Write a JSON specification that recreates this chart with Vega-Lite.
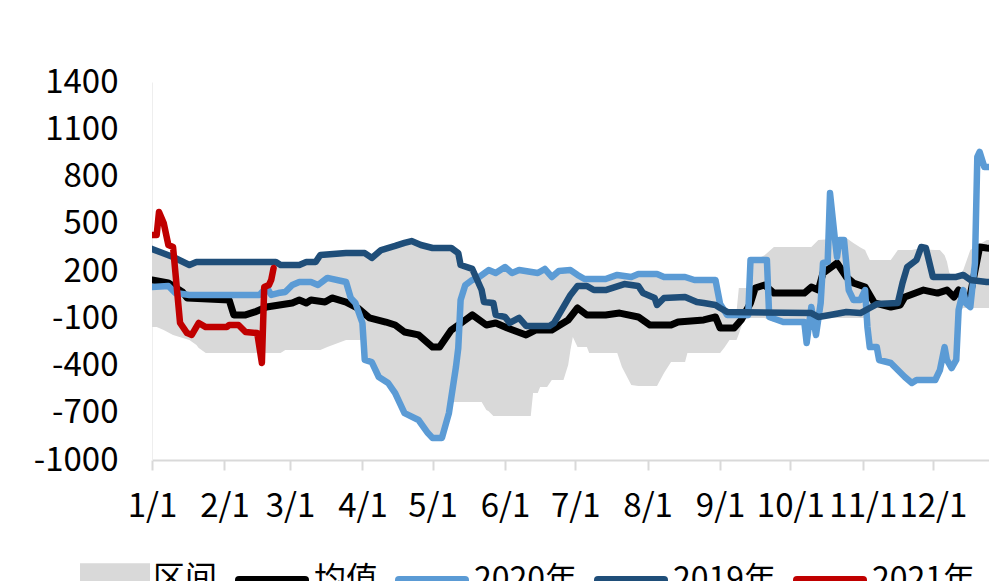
{
"$schema": "https://vega.github.io/schema/vega-lite/v6.json",
"width": 837, "height": 378,
"autosize": {"type": "none"},
"padding": {"left": 152, "top": 82, "right": 0, "bottom": 121},
"config": {"view": {"stroke": null}, "font": "Noto Sans CJK SC"},
"datasets": {
"band": [
{"d":"2021/01/01","lo":-156,"hi":340},{"d":"2021/01/03","lo":-156,"hi":320},{"d":"2021/01/06","lo":-175,"hi":300},{"d":"2021/01/10","lo":-206,"hi":289},{"d":"2021/01/17","lo":-238,"hi":238},{"d":"2021/01/20","lo":-270,"hi":257},{"d":"2021/01/21","lo":-289,"hi":257},{"d":"2021/01/24","lo":-321,"hi":257},{"d":"2021/02/23","lo":-321,"hi":257},{"d":"2021/02/25","lo":-321,"hi":238},{"d":"2021/02/27","lo":-302,"hi":238},{"d":"2021/03/05","lo":-302,"hi":238},{"d":"2021/03/08","lo":-302,"hi":257},{"d":"2021/03/12","lo":-302,"hi":257},{"d":"2021/03/14","lo":-302,"hi":302},{"d":"2021/03/17","lo":-283,"hi":310},{"d":"2021/03/25","lo":-238,"hi":314},{"d":"2021/04/01","lo":-238,"hi":314},{"d":"2021/04/02","lo":-365,"hi":314},{"d":"2021/04/05","lo":-378,"hi":283},{"d":"2021/04/08","lo":-473,"hi":310},{"d":"2021/04/09","lo":-500,"hi":333},{"d":"2021/04/12","lo":-511,"hi":350},{"d":"2021/04/15","lo":-575,"hi":359},{"d":"2021/04/19","lo":-702,"hi":378},{"d":"2021/04/22","lo":-725,"hi":390},{"d":"2021/04/25","lo":-746,"hi":370},{"d":"2021/04/26","lo":-780,"hi":365},{"d":"2021/04/29","lo":-829,"hi":346},{"d":"2021/05/01","lo":-860,"hi":346},{"d":"2021/05/05","lo":-860,"hi":346},{"d":"2021/05/08","lo":-702,"hi":346},{"d":"2021/05/09","lo":-660,"hi":346},{"d":"2021/05/10","lo":-632,"hi":330},{"d":"2021/05/12","lo":-632,"hi":314},{"d":"2021/05/13","lo":-632,"hi":238},{"d":"2021/05/18","lo":-632,"hi":213},{"d":"2021/05/21","lo":-632,"hi":162},{"d":"2021/05/22","lo":-632,"hi":162},{"d":"2021/05/24","lo":-683,"hi":180},{"d":"2021/05/25","lo":-690,"hi":206},{"d":"2021/05/27","lo":-721,"hi":195},{"d":"2021/05/28","lo":-721,"hi":187},{"d":"2021/06/01","lo":-721,"hi":225},{"d":"2021/06/04","lo":-721,"hi":187},{"d":"2021/06/07","lo":-721,"hi":206},{"d":"2021/06/12","lo":-721,"hi":195},{"d":"2021/06/13","lo":-575,"hi":190},{"d":"2021/06/15","lo":-575,"hi":187},{"d":"2021/06/16","lo":-537,"hi":200},{"d":"2021/06/18","lo":-537,"hi":213},{"d":"2021/06/19","lo":-537,"hi":190},{"d":"2021/06/21","lo":-492,"hi":162},{"d":"2021/06/24","lo":-492,"hi":200},{"d":"2021/06/26","lo":-492,"hi":203},{"d":"2021/06/28","lo":-397,"hi":206},{"d":"2021/06/29","lo":-300,"hi":206},{"d":"2021/06/30","lo":-219,"hi":190},{"d":"2021/07/02","lo":-283,"hi":175},{"d":"2021/07/06","lo":-283,"hi":149},{"d":"2021/07/07","lo":-321,"hi":149},{"d":"2021/07/14","lo":-321,"hi":149},{"d":"2021/07/19","lo":-321,"hi":175},{"d":"2021/07/21","lo":-410,"hi":170},{"d":"2021/07/25","lo":-524,"hi":162},{"d":"2021/07/28","lo":-530,"hi":181},{"d":"2021/08/05","lo":-530,"hi":181},{"d":"2021/08/08","lo":-448,"hi":162},{"d":"2021/08/11","lo":-378,"hi":162},{"d":"2021/08/17","lo":-378,"hi":162},{"d":"2021/08/18","lo":-321,"hi":155},{"d":"2021/08/21","lo":-321,"hi":143},{"d":"2021/08/30","lo":-321,"hi":143},{"d":"2021/09/01","lo":-321,"hi":-10},{"d":"2021/09/03","lo":-283,"hi":-40},{"d":"2021/09/05","lo":-238,"hi":-60},{"d":"2021/09/08","lo":-238,"hi":-60},{"d":"2021/09/09","lo":-200,"hi":92},{"d":"2021/09/11","lo":-111,"hi":92},{"d":"2021/09/13","lo":-100,"hi":92},{"d":"2021/09/14","lo":-98,"hi":270},{"d":"2021/09/16","lo":-98,"hi":270},{"d":"2021/09/20","lo":-98,"hi":300},{"d":"2021/09/24","lo":-124,"hi":352},{"d":"2021/10/07","lo":-124,"hi":352},{"d":"2021/10/10","lo":-98,"hi":352},{"d":"2021/10/13","lo":-98,"hi":397},{"d":"2021/10/25","lo":-98,"hi":410},{"d":"2021/10/28","lo":-98,"hi":378},{"d":"2021/10/31","lo":-98,"hi":350},{"d":"2021/11/02","lo":-98,"hi":333},{"d":"2021/11/03","lo":-156,"hi":300},{"d":"2021/11/04","lo":-283,"hi":270},{"d":"2021/11/07","lo":-283,"hi":270},{"d":"2021/11/08","lo":-365,"hi":270},{"d":"2021/11/13","lo":-384,"hi":270},{"d":"2021/11/16","lo":-429,"hi":333},{"d":"2021/11/19","lo":-473,"hi":333},{"d":"2021/11/22","lo":-511,"hi":333},{"d":"2021/11/24","lo":-492,"hi":340},{"d":"2021/12/02","lo":-492,"hi":333},{"d":"2021/12/04","lo":-429,"hi":333},{"d":"2021/12/06","lo":-283,"hi":300},{"d":"2021/12/07","lo":-365,"hi":260},{"d":"2021/12/08","lo":-390,"hi":190},{"d":"2021/12/09","lo":-416,"hi":170},{"d":"2021/12/11","lo":-365,"hi":143},{"d":"2021/12/12","lo":-48,"hi":160},{"d":"2021/12/14","lo":-35,"hi":206},{"d":"2021/12/17","lo":-35,"hi":333},{"d":"2021/12/24","lo":-35,"hi":397},{"d":"2021/12/31","lo":-35,"hi":397}
],
"lines": [
{"d":"2021/01/01","s":"均值","v":143},{"d":"2021/01/08","s":"均值","v":124},{"d":"2021/01/14","s":"均值","v":67},{"d":"2021/01/16","s":"均值","v":29},{"d":"2021/02/03","s":"均值","v":16},{"d":"2021/02/05","s":"均值","v":-79},{"d":"2021/02/10","s":"均值","v":-79},{"d":"2021/02/14","s":"均值","v":-60},{"d":"2021/02/19","s":"均值","v":-29},{"d":"2021/03/02","s":"均值","v":-3},{"d":"2021/03/05","s":"均值","v":16},{"d":"2021/03/08","s":"均值","v":-3},{"d":"2021/03/10","s":"均值","v":16},{"d":"2021/03/16","s":"均值","v":3},{"d":"2021/03/19","s":"均值","v":29},{"d":"2021/03/25","s":"均值","v":3},{"d":"2021/03/30","s":"均值","v":-35},{"d":"2021/04/04","s":"均值","v":-98},{"d":"2021/04/11","s":"均值","v":-124},{"d":"2021/04/15","s":"均值","v":-143},{"d":"2021/04/19","s":"均值","v":-187},{"d":"2021/04/25","s":"均值","v":-206},{"d":"2021/05/01","s":"均值","v":-283},{"d":"2021/05/04","s":"均值","v":-283},{"d":"2021/05/09","s":"均值","v":-175},{"d":"2021/05/15","s":"均值","v":-111},{"d":"2021/05/18","s":"均值","v":-79},{"d":"2021/05/24","s":"均值","v":-143},{"d":"2021/05/28","s":"均值","v":-130},{"d":"2021/06/02","s":"均值","v":-162},{"d":"2021/06/10","s":"均值","v":-206},{"d":"2021/06/14","s":"均值","v":-175},{"d":"2021/06/21","s":"均值","v":-175},{"d":"2021/06/28","s":"均值","v":-111},{"d":"2021/07/02","s":"均值","v":-35},{"d":"2021/07/06","s":"均值","v":-79},{"d":"2021/07/14","s":"均值","v":-79},{"d":"2021/07/20","s":"均值","v":-67},{"d":"2021/07/28","s":"均值","v":-92},{"d":"2021/08/02","s":"均值","v":-143},{"d":"2021/08/11","s":"均值","v":-143},{"d":"2021/08/14","s":"均值","v":-124},{"d":"2021/08/25","s":"均值","v":-111},{"d":"2021/08/30","s":"均值","v":-92},{"d":"2021/09/01","s":"均值","v":-162},{"d":"2021/09/07","s":"均值","v":-162},{"d":"2021/09/10","s":"均值","v":-111},{"d":"2021/09/14","s":"均值","v":-3},{"d":"2021/09/16","s":"均值","v":92},{"d":"2021/09/20","s":"均值","v":111},{"d":"2021/09/24","s":"均值","v":60},{"d":"2021/10/07","s":"均值","v":60},{"d":"2021/10/10","s":"均值","v":98},{"d":"2021/10/13","s":"均值","v":79},{"d":"2021/10/15","s":"均值","v":187},{"d":"2021/10/21","s":"均值","v":251},{"d":"2021/10/25","s":"均值","v":162},{"d":"2021/10/28","s":"均值","v":124},{"d":"2021/11/02","s":"均值","v":98},{"d":"2021/11/06","s":"均值","v":-3},{"d":"2021/11/13","s":"均值","v":-29},{"d":"2021/11/17","s":"均值","v":-16},{"d":"2021/11/19","s":"均值","v":35},{"d":"2021/11/27","s":"均值","v":79},{"d":"2021/12/03","s":"均值","v":60},{"d":"2021/12/07","s":"均值","v":79},{"d":"2021/12/10","s":"均值","v":35},{"d":"2021/12/12","s":"均值","v":79},{"d":"2021/12/14","s":"均值","v":16},{"d":"2021/12/17","s":"均值","v":48},{"d":"2021/12/21","s":"均值","v":352},{"d":"2021/12/24","s":"均值","v":346},{"d":"2021/12/31","s":"均值","v":340},
{"d":"2021/01/01","s":"2020年","v":98},{"d":"2021/01/08","s":"2020年","v":105},{"d":"2021/01/11","s":"2020年","v":60},{"d":"2021/01/17","s":"2020年","v":48},{"d":"2021/02/16","s":"2020年","v":48},{"d":"2021/02/19","s":"2020年","v":98},{"d":"2021/02/21","s":"2020年","v":48},{"d":"2021/02/24","s":"2020年","v":60},{"d":"2021/02/27","s":"2020年","v":67},{"d":"2021/03/02","s":"2020年","v":111},{"d":"2021/03/05","s":"2020年","v":130},{"d":"2021/03/10","s":"2020年","v":130},{"d":"2021/03/13","s":"2020年","v":111},{"d":"2021/03/17","s":"2020年","v":156},{"d":"2021/03/25","s":"2020年","v":130},{"d":"2021/03/27","s":"2020年","v":29},{"d":"2021/03/29","s":"2020年","v":-3},{"d":"2021/04/01","s":"2020年","v":-130},{"d":"2021/04/02","s":"2020年","v":-365},{"d":"2021/04/05","s":"2020年","v":-378},{"d":"2021/04/08","s":"2020年","v":-473},{"d":"2021/04/12","s":"2020年","v":-511},{"d":"2021/04/15","s":"2020年","v":-575},{"d":"2021/04/19","s":"2020年","v":-702},{"d":"2021/04/25","s":"2020年","v":-746},{"d":"2021/04/29","s":"2020年","v":-829},{"d":"2021/05/01","s":"2020年","v":-860},{"d":"2021/05/05","s":"2020年","v":-860},{"d":"2021/05/08","s":"2020年","v":-702},{"d":"2021/05/11","s":"2020年","v":-410},{"d":"2021/05/12","s":"2020年","v":-289},{"d":"2021/05/13","s":"2020年","v":16},{"d":"2021/05/15","s":"2020年","v":111},{"d":"2021/05/18","s":"2020年","v":143},{"d":"2021/05/21","s":"2020年","v":162},{"d":"2021/05/25","s":"2020年","v":206},{"d":"2021/05/28","s":"2020年","v":187},{"d":"2021/06/01","s":"2020年","v":225},{"d":"2021/06/04","s":"2020年","v":187},{"d":"2021/06/07","s":"2020年","v":206},{"d":"2021/06/15","s":"2020年","v":187},{"d":"2021/06/18","s":"2020年","v":213},{"d":"2021/06/21","s":"2020年","v":162},{"d":"2021/06/24","s":"2020年","v":200},{"d":"2021/06/29","s":"2020年","v":206},{"d":"2021/07/02","s":"2020年","v":175},{"d":"2021/07/05","s":"2020年","v":149},{"d":"2021/07/14","s":"2020年","v":149},{"d":"2021/07/19","s":"2020年","v":175},{"d":"2021/07/25","s":"2020年","v":162},{"d":"2021/07/28","s":"2020年","v":181},{"d":"2021/08/05","s":"2020年","v":181},{"d":"2021/08/08","s":"2020年","v":162},{"d":"2021/08/17","s":"2020年","v":162},{"d":"2021/08/21","s":"2020年","v":143},{"d":"2021/08/30","s":"2020年","v":143},{"d":"2021/09/01","s":"2020年","v":-10},{"d":"2021/09/04","s":"2020年","v":-79},{"d":"2021/09/13","s":"2020年","v":-79},{"d":"2021/09/14","s":"2020年","v":270},{"d":"2021/09/21","s":"2020年","v":270},{"d":"2021/09/22","s":"2020年","v":-92},{"d":"2021/09/28","s":"2020年","v":-124},{"d":"2021/10/07","s":"2020年","v":-124},{"d":"2021/10/08","s":"2020年","v":-257},{"d":"2021/10/10","s":"2020年","v":-29},{"d":"2021/10/12","s":"2020年","v":-206},{"d":"2021/10/14","s":"2020年","v":-3},{"d":"2021/10/15","s":"2020年","v":251},{"d":"2021/10/17","s":"2020年","v":257},{"d":"2021/10/18","s":"2020年","v":695},{"d":"2021/10/20","s":"2020年","v":416},{"d":"2021/10/21","s":"2020年","v":289},{"d":"2021/10/22","s":"2020年","v":397},{"d":"2021/10/24","s":"2020年","v":397},{"d":"2021/10/26","s":"2020年","v":79},{"d":"2021/10/28","s":"2020年","v":16},{"d":"2021/10/31","s":"2020年","v":16},{"d":"2021/11/02","s":"2020年","v":79},{"d":"2021/11/03","s":"2020年","v":-156},{"d":"2021/11/04","s":"2020年","v":-283},{"d":"2021/11/07","s":"2020年","v":-283},{"d":"2021/11/08","s":"2020年","v":-365},{"d":"2021/11/13","s":"2020年","v":-384},{"d":"2021/11/16","s":"2020年","v":-429},{"d":"2021/11/19","s":"2020年","v":-473},{"d":"2021/11/22","s":"2020年","v":-511},{"d":"2021/11/24","s":"2020年","v":-492},{"d":"2021/12/02","s":"2020年","v":-492},{"d":"2021/12/04","s":"2020年","v":-429},{"d":"2021/12/06","s":"2020年","v":-283},{"d":"2021/12/07","s":"2020年","v":-365},{"d":"2021/12/09","s":"2020年","v":-416},{"d":"2021/12/11","s":"2020年","v":-365},{"d":"2021/12/12","s":"2020年","v":-48},{"d":"2021/12/14","s":"2020年","v":79},{"d":"2021/12/15","s":"2020年","v":-3},{"d":"2021/12/17","s":"2020年","v":-29},{"d":"2021/12/19","s":"2020年","v":251},{"d":"2021/12/20","s":"2020年","v":924},{"d":"2021/12/21","s":"2020年","v":956},{"d":"2021/12/23","s":"2020年","v":860},{"d":"2021/12/31","s":"2020年","v":860},
{"d":"2021/01/01","s":"2019年","v":340},{"d":"2021/01/10","s":"2019年","v":289},{"d":"2021/01/17","s":"2019年","v":238},{"d":"2021/01/20","s":"2019年","v":257},{"d":"2021/02/23","s":"2019年","v":257},{"d":"2021/02/25","s":"2019年","v":238},{"d":"2021/03/05","s":"2019年","v":238},{"d":"2021/03/08","s":"2019年","v":257},{"d":"2021/03/12","s":"2019年","v":257},{"d":"2021/03/14","s":"2019年","v":302},{"d":"2021/03/25","s":"2019年","v":314},{"d":"2021/04/02","s":"2019年","v":314},{"d":"2021/04/05","s":"2019年","v":283},{"d":"2021/04/09","s":"2019年","v":333},{"d":"2021/04/15","s":"2019年","v":359},{"d":"2021/04/19","s":"2019年","v":378},{"d":"2021/04/22","s":"2019年","v":390},{"d":"2021/04/26","s":"2019年","v":365},{"d":"2021/05/01","s":"2019年","v":346},{"d":"2021/05/09","s":"2019年","v":346},{"d":"2021/05/12","s":"2019年","v":314},{"d":"2021/05/13","s":"2019年","v":238},{"d":"2021/05/18","s":"2019年","v":213},{"d":"2021/05/22","s":"2019年","v":79},{"d":"2021/05/23","s":"2019年","v":3},{"d":"2021/05/27","s":"2019年","v":-3},{"d":"2021/05/28","s":"2019年","v":-79},{"d":"2021/06/01","s":"2019年","v":-92},{"d":"2021/06/03","s":"2019年","v":-130},{"d":"2021/06/07","s":"2019年","v":-98},{"d":"2021/06/10","s":"2019年","v":-149},{"d":"2021/06/20","s":"2019年","v":-149},{"d":"2021/06/22","s":"2019年","v":-130},{"d":"2021/06/27","s":"2019年","v":-3},{"d":"2021/06/29","s":"2019年","v":48},{"d":"2021/07/02","s":"2019年","v":105},{"d":"2021/07/06","s":"2019年","v":105},{"d":"2021/07/09","s":"2019年","v":79},{"d":"2021/07/14","s":"2019年","v":79},{"d":"2021/07/22","s":"2019年","v":117},{"d":"2021/07/28","s":"2019年","v":105},{"d":"2021/07/30","s":"2019年","v":60},{"d":"2021/08/04","s":"2019年","v":29},{"d":"2021/08/05","s":"2019年","v":-16},{"d":"2021/08/08","s":"2019年","v":29},{"d":"2021/08/17","s":"2019年","v":35},{"d":"2021/08/22","s":"2019年","v":3},{"d":"2021/08/25","s":"2019年","v":-3},{"d":"2021/08/30","s":"2019年","v":-16},{"d":"2021/09/01","s":"2019年","v":-35},{"d":"2021/09/04","s":"2019年","v":-60},{"d":"2021/10/10","s":"2019年","v":-67},{"d":"2021/10/13","s":"2019年","v":-92},{"d":"2021/10/18","s":"2019年","v":-79},{"d":"2021/10/25","s":"2019年","v":-60},{"d":"2021/10/31","s":"2019年","v":-67},{"d":"2021/11/04","s":"2019年","v":-35},{"d":"2021/11/07","s":"2019年","v":-10},{"d":"2021/11/16","s":"2019年","v":-3},{"d":"2021/11/18","s":"2019年","v":124},{"d":"2021/11/20","s":"2019年","v":225},{"d":"2021/11/24","s":"2019年","v":270},{"d":"2021/11/26","s":"2019年","v":352},{"d":"2021/11/28","s":"2019年","v":346},{"d":"2021/12/01","s":"2019年","v":162},{"d":"2021/12/11","s":"2019年","v":162},{"d":"2021/12/14","s":"2019年","v":175},{"d":"2021/12/17","s":"2019年","v":143},{"d":"2021/12/24","s":"2019年","v":130},{"d":"2021/12/31","s":"2019年","v":130},
{"d":"2021/01/01","s":"2021年","v":429},{"d":"2021/01/03","s":"2021年","v":429},{"d":"2021/01/04","s":"2021年","v":575},{"d":"2021/01/06","s":"2021年","v":505},{"d":"2021/01/08","s":"2021年","v":365},{"d":"2021/01/10","s":"2021年","v":352},{"d":"2021/01/13","s":"2021年","v":-130},{"d":"2021/01/16","s":"2021年","v":-194},{"d":"2021/01/18","s":"2021年","v":-206},{"d":"2021/01/21","s":"2021年","v":-130},{"d":"2021/01/24","s":"2021年","v":-156},{"d":"2021/02/02","s":"2021年","v":-156},{"d":"2021/02/03","s":"2021年","v":-143},{"d":"2021/02/07","s":"2021年","v":-143},{"d":"2021/02/10","s":"2021年","v":-187},{"d":"2021/02/15","s":"2021年","v":-194},{"d":"2021/02/17","s":"2021年","v":-384},{"d":"2021/02/18","s":"2021年","v":98},{"d":"2021/02/20","s":"2021年","v":111},{"d":"2021/02/21","s":"2021年","v":143},{"d":"2021/02/22","s":"2021年","v":219}
]
},
"layer": [
{"data": {"name": "band"},
 "mark": {"type": "area", "clip": true},
 "encoding": {
  "x": {"field": "d", "type": "temporal", "scale": {"domain": [{"year": 2021, "month": 1, "date": 1}, {"year": 2021, "month": 12, "date": 25}]}, "axis": {"format": "%-m/%-d", "tickCount": {"interval": "month", "step": 1}, "title": null, "grid": false, "labelFontSize": 33, "labelColor": "#000000", "labelPadding": 20, "tickSize": 10, "tickColor": "#D9D9D9", "tickWidth": 2, "domainColor": "#D9D9D9", "domainWidth": 2, "labelOverlap": false, "labelFlush": false}},
  "y": {"field": "lo", "type": "quantitative", "scale": {"domain": [-1000, 1400], "nice": false, "zero": false}, "axis": {"values": [-1000, -700, -400, -100, 200, 500, 800, 1100, 1400], "labelExpr": "datum.value + ''", "title": null, "grid": false, "ticks": false, "domainColor": "#EEEEEE", "domainWidth": 1, "labelFontSize": 33, "labelColor": "#000000", "labelPadding": 34}},
  "y2": {"field": "hi"},
  "fill": {"datum": "区间", "type": "nominal", "scale": {"domain": ["区间"], "range": ["#D9D9D9"]}, "legend": {"orient": "none", "legendX": -72, "legendY": 462, "direction": "horizontal", "title": null, "symbolType": "M-1,-0.45H1V0.45H-1Z", "symbolSize": 4900, "symbolStrokeWidth": 0, "symbolOpacity": 1, "labelFontSize": 32, "labelColor": "#000000", "labelOffset": 3, "padding": 0}}
 }},
{"data": {"name": "lines"},
 "transform": [{"filter": "datum.s === '均值'"}],
 "mark": {"type": "line", "clip": true, "strokeWidth": 7, "strokeCap": "round", "strokeJoin": "round"},
 "encoding": {
  "x": {"field": "d", "type": "temporal"},
  "y": {"field": "v", "type": "quantitative"},
  "stroke": {"field": "s", "type": "nominal", "scale": {"domain": ["均值", "2020年", "2019年", "2021年"], "range": ["#000000", "#5B9BD5", "#1F4E79", "#C00000"]}, "legend": {"orient": "none", "legendX": 83, "legendY": 461, "direction": "horizontal", "title": null, "symbolType": "stroke", "symbolSize": 4356, "symbolStrokeWidth": 8, "labelFontSize": 32, "labelColor": "#000000", "labelOffset": 5, "columnPadding": 4, "padding": 0, "encode": {"symbols": {"update": {"strokeWidth": {"value": 8}, "strokeCap": {"value": "round"}}}}}}
 }},
{"data": {"name": "lines"},
 "transform": [{"filter": "datum.s === '2020年'"}],
 "mark": {"type": "line", "clip": true, "strokeWidth": 6.5, "strokeCap": "round", "strokeJoin": "round"},
 "encoding": {"x": {"field": "d", "type": "temporal"}, "y": {"field": "v", "type": "quantitative"}, "stroke": {"field": "s", "type": "nominal"}}},
{"data": {"name": "lines"},
 "transform": [{"filter": "datum.s === '2019年'"}],
 "mark": {"type": "line", "clip": true, "strokeWidth": 6.5, "strokeCap": "round", "strokeJoin": "round"},
 "encoding": {"x": {"field": "d", "type": "temporal"}, "y": {"field": "v", "type": "quantitative"}, "stroke": {"field": "s", "type": "nominal"}}},
{"data": {"name": "lines"},
 "transform": [{"filter": "datum.s === '2021年'"}],
 "mark": {"type": "line", "clip": true, "strokeWidth": 6.5, "strokeCap": "round", "strokeJoin": "round"},
 "encoding": {"x": {"field": "d", "type": "temporal"}, "y": {"field": "v", "type": "quantitative"}, "stroke": {"field": "s", "type": "nominal"}}}
]
}
